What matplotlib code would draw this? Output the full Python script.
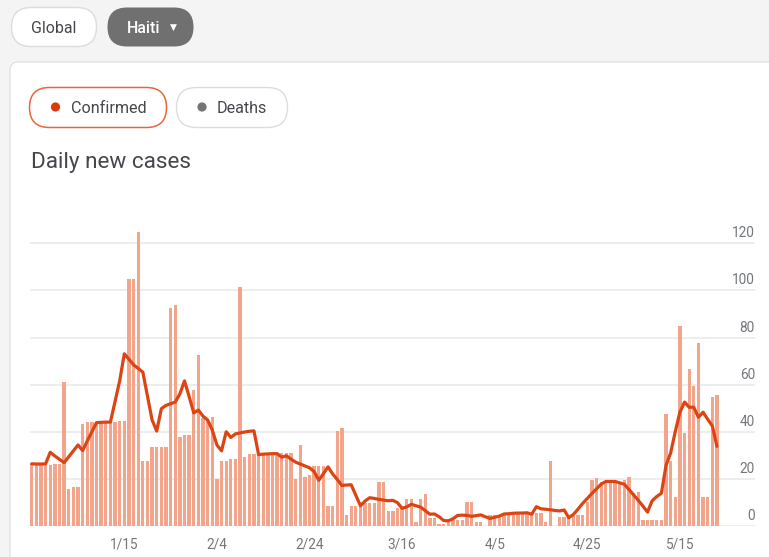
import matplotlib
matplotlib.use("Agg")
import matplotlib.pyplot as plt
from matplotlib.patches import FancyBboxPatch, Circle
import matplotlib.transforms as mtrans
import pandas as pd

# ---------------- data ----------------
dates = pd.date_range("2020-12-26", periods=149, freq="D")

daily_cases = [
    26.5, 26.5, 26.5, 26, 26, 26.5, 26.5, 61, 15.5, 16.5,
    16.5, 43.5, 44, 44, 44, 44, 44, 44, 44, 44.5,
    44.5, 105, 105, 125, 27.5, 27.5, 33.7, 33.7, 33.7, 33.7,
    92.6, 93.6, 37.6, 38.6, 38.6, 57.7, 72.7, 45.7, 45, 46.4,
    19.8, 27.6, 27.6, 28.6, 28.6, 101.6, 29.4, 30.4, 30.4, 30.4,
    30.4, 30.4, 30.4, 31, 31, 31, 31, 19.8, 34.4, 20.7,
    21.6, 25.5, 25.5, 25.5, 8.5, 8.5, 40.5, 41.4, 4.7, 8.5,
    8.5, 9.6, 9.6, 9.6, 9.6, 18.5, 18.5, 6.5, 6.5, 7.5,
    7.5, 11.3, 11.3, 1.6, 11.3, 13.6, 3.5, 3.5, 0.8, 0.8,
    2.5, 2.5, 2.5, 2.5, 10.3, 10.3, 1.6, 1.6, 0, 4.5,
    4.5, 4.5, 5.4, 5.4, 5.4, 5.7, 5.7, 5.7, 5.1, 5.7,
    5.7, 1.7, 27.5, 0, 3.7, 3.7, 3.7, 4.2, 4.5, 4.5,
    10.3, 19.5, 20.5, 18.5, 18.5, 18.5, 18.5, 18.5, 19.5, 20.6,
    14, 14.6, 2.5, 2.5, 2.5, 2.5, 2.5, 47.5, 27.6, 12.4,
    84.9, 39.6, 66.5, 59.4, 77.5, 12.4, 12.4, 54.6, 55.6,
]

avg_7day = [
    26.4, 26.3, 26.3, 26.4, 31.3, 29.7, 28.3, 26.9, 29.4, 31.9,
    34.4, 32.0, 36.1, 40.0, 43.9, 44.0, 44.1, 44.1, 52.9, 61.6,
    73.1, 70.8, 68.4, 66.9, 65.3, 55.2, 45.0, 40.3, 49.8, 51.2,
    51.9, 52.6, 56.1, 61.6, 54.9, 48.0, 49.2, 46.6, 45.0, 40.7,
    34.4, 31.9, 40.0, 37.6, 39.1, 39.5, 39.9, 40.2, 40.4, 30.3,
    30.5, 30.6, 30.7, 30.7, 29.2, 29.8, 28.4, 27.1, 26.3, 25.5,
    24.7, 23.1, 19.4, 22.2, 25.1, 22.1, 19.7, 17.2, 17.4, 17.5,
    13.1, 8.6, 10.6, 12.0, 11.7, 11.3, 11.0, 10.7, 10.9, 9.9,
    7.5, 8.1, 9.2, 8.6, 8.0, 6.5, 5.0, 5.1, 3.9, 2.3,
    2.2, 3.1, 4.5, 4.6, 4.5, 4.1, 4.4, 4.7, 3.9, 3.2,
    3.7, 4.2, 5.1, 5.2, 5.4, 5.5, 5.5, 5.6, 5.0, 8.2,
    7.3, 7.1, 6.9, 6.6, 6.4, 6.8, 3.5, 4.9, 7.2, 9.6,
    11.7, 13.8, 15.8, 17.8, 18.9, 18.9, 18.9, 18.3, 17.7, 15.5,
    13.2, 10.9, 8.5, 5.9, 10.7, 12.5, 13.9, 25.7, 31.0, 40.1,
    48.3, 52.6, 50.4, 50.4, 46.1, 48.3, 45.3, 42.5, 33.8,
]

tick_dates = ["2021-01-15", "2021-02-04", "2021-02-24", "2021-03-16",
              "2021-04-05", "2021-04-25", "2021-05-15"]
tick_labels = ["1/15", "2/4", "2/24", "3/16", "4/5", "4/25", "5/15"]
y_ticks = [0, 20, 40, 60, 80, 100, 120]

# ---------------- style ----------------
W, H = 769, 557
FONT = ["Roboto", "DejaVu Sans"]
plt.rcParams["font.family"] = FONT

BAR_COLOR = "#f3a58c"
LINE_COLOR = "#dc4414"
GRID_COLOR = "#e8e8e8"
LABEL_COLOR = "#73777b"
TEXT_COLOR = "#44474b"

fig = plt.figure(figsize=(W / 100, H / 100), dpi=100)
fig.patch.set_facecolor("#f4f4f4")

# overlay axes in pixel coordinates for the UI chrome
ui = fig.add_axes([0, 0, 1, 1], zorder=0)
ui.set_xlim(0, W)
ui.set_ylim(H, 0)
ui.axis("off")

card = FancyBboxPatch((10, 62), 900, 700, boxstyle="round,pad=0,rounding_size=8",
                      facecolor="white", edgecolor="#e2e2e2", linewidth=1.0)
ui.add_patch(card)

# top pills
ui.add_patch(FancyBboxPatch((11.5, 7.5), 85, 39, boxstyle="round,pad=0,rounding_size=19.5",
                            facecolor="white", edgecolor="#dadce0", linewidth=1.0))
ui.text(54, 33, "Global", ha="center", va="baseline", fontsize=11.4, color=TEXT_COLOR)

ui.add_patch(FancyBboxPatch((107.5, 7.5), 86, 39, boxstyle="round,pad=0,rounding_size=19.5",
                            facecolor="#707070", edgecolor="none"))
ui.text(127, 33, "Haiti", ha="left", va="baseline", fontsize=11.4, color="white",
        fontweight="medium")
ui.text(173.5, 27, "▼", ha="center", va="center", fontsize=6.5, color="white",
        family=["DejaVu Sans"])

# metric pills
ui.add_patch(FancyBboxPatch((29.5, 87.5), 137, 40, boxstyle="round,pad=0,rounding_size=20",
                            facecolor="white", edgecolor="#e8663d", linewidth=1.1))
ui.add_patch(Circle((55.5, 107), 4.6, facecolor="#d83b0c", edgecolor="none"))
ui.text(71, 113, "Confirmed", ha="left", va="baseline", fontsize=11.6, color=TEXT_COLOR)

ui.add_patch(FancyBboxPatch((176.5, 87.5), 111, 40, boxstyle="round,pad=0,rounding_size=20",
                            facecolor="white", edgecolor="#dadce0", linewidth=1.0))
ui.add_patch(Circle((202, 107), 4.6, facecolor="#757575", edgecolor="none"))
ui.text(217, 113, "Deaths", ha="left", va="baseline", fontsize=11.6, color=TEXT_COLOR)

ui.text(31, 168, "Daily new cases", ha="left", va="baseline", fontsize=16.2, color=TEXT_COLOR)

# ---------------- chart ----------------
x_left, x_right = 30, 755
y_zero = 526
px_per_unit = (526 - 243.3) / 120.0
y_top_val = 130
ax_h = y_top_val * px_per_unit
ax = fig.add_axes([x_left / W, (H - y_zero) / H, (x_right - x_left) / W, ax_h / H], zorder=1)
ax.set_facecolor("none")

x = list(range(len(dates)))
px_per_day = 4.63
x_min = -0.37
x_max = x_min + (x_right - x_left) / px_per_day
ax.set_xlim(x_min, x_max)
ax.set_ylim(0, y_top_val)

for v in y_ticks:
    ax.axhline(v, color=GRID_COLOR, linewidth=1.1, zorder=0)

ax.bar(x, daily_cases, width=0.72, color=BAR_COLOR, zorder=2, linewidth=0)
ax.plot(x, avg_7day, color=LINE_COLOR, linewidth=2.3, zorder=3,
        solid_joinstyle="round", solid_capstyle="round")

for s in ax.spines.values():
    s.set_visible(False)

date_index = {d.strftime("%Y-%m-%d"): i for i, d in enumerate(dates)}
ax.set_xticks([date_index[d] for d in tick_dates])
ax.set_xticklabels(tick_labels, fontsize=9.8, color=LABEL_COLOR)
ax.tick_params(axis="x", length=0, pad=8)
ax.set_yticks([])

label_tr = mtrans.blended_transform_factory(ax.transAxes, ax.transData) + \
    mtrans.ScaledTranslation(0, 6 / 100, fig.dpi_scale_trans)
for v in y_ticks:
    ax.text(1.0, v, str(v), transform=label_tr, ha="right", va="baseline",
            fontsize=9.8, color=LABEL_COLOR)

fig.savefig("out.png", dpi=100, facecolor=fig.get_facecolor())
